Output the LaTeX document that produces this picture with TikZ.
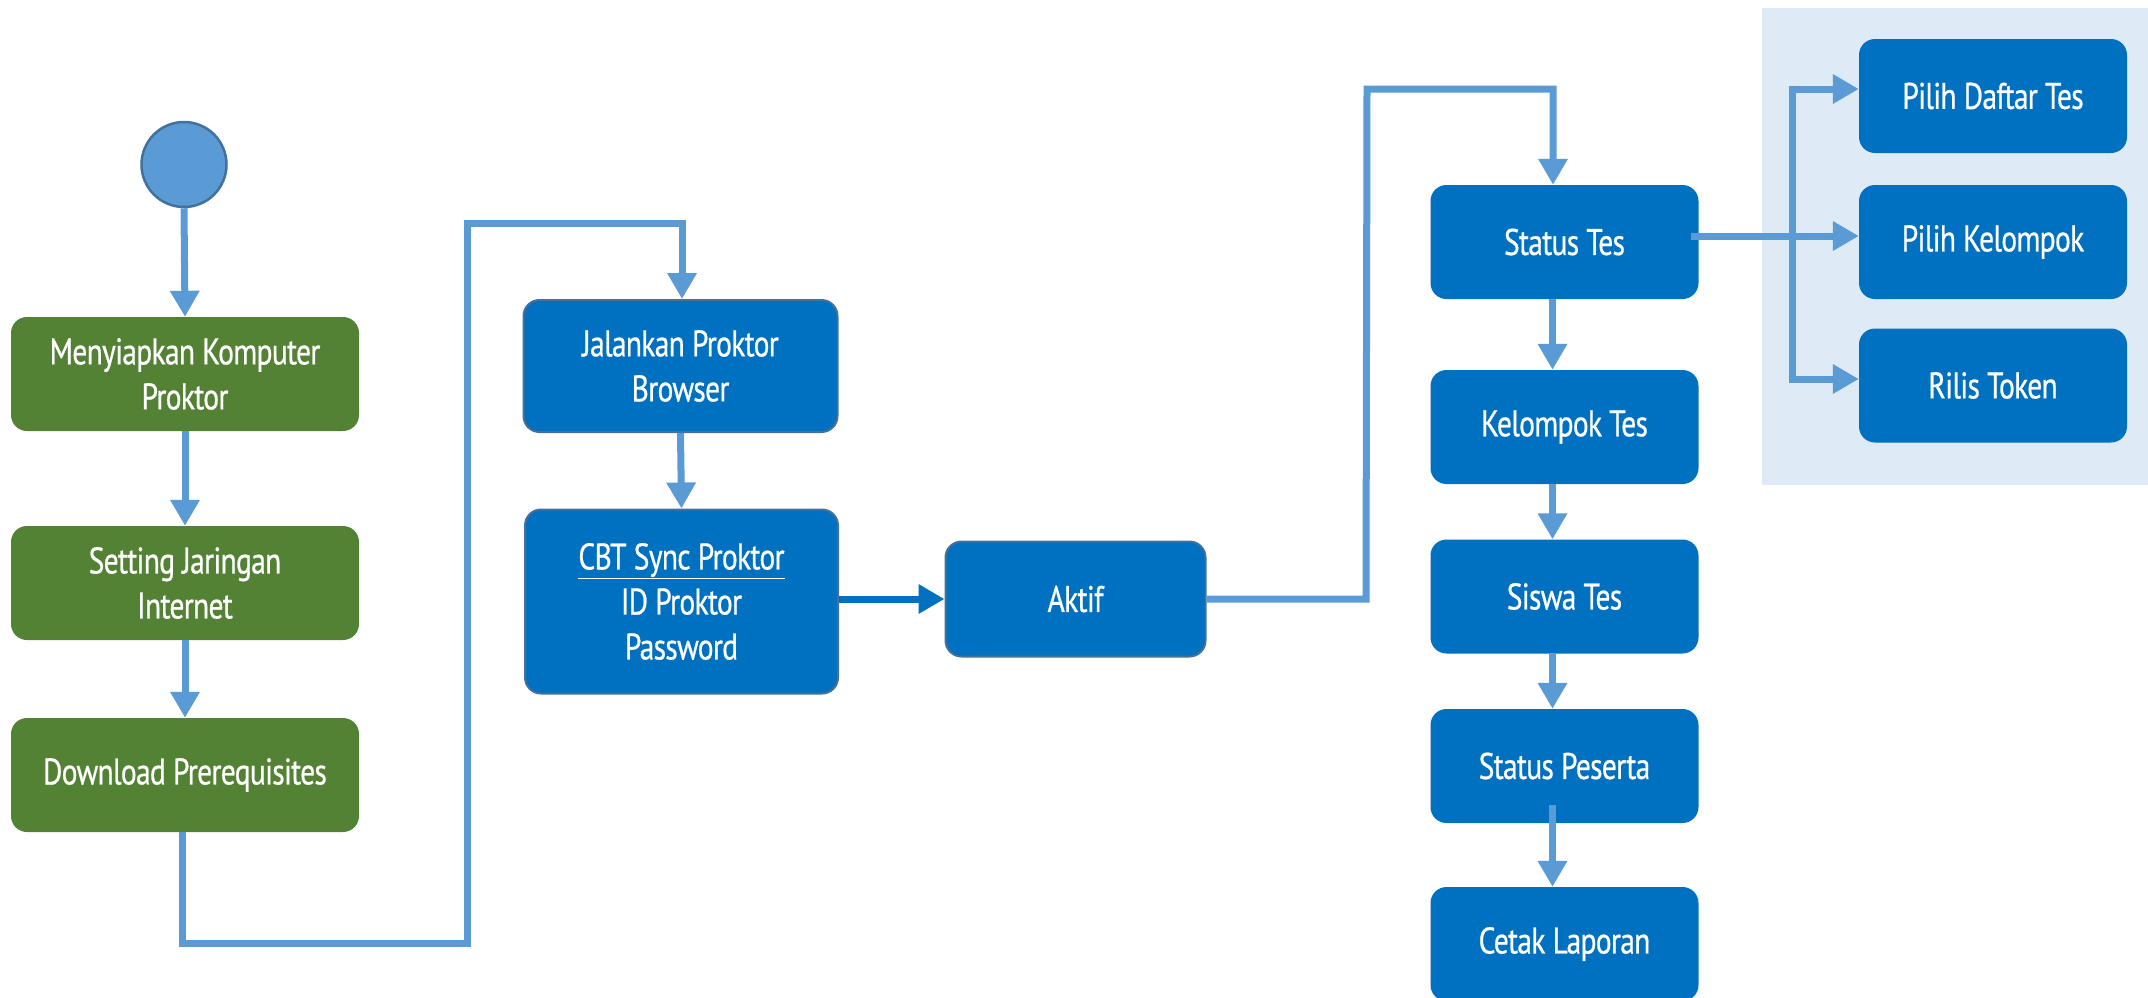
\documentclass[tikz,border=0pt]{standalone}
\usepackage{fontspec}
\setmainfont{PT Sans}[FakeStretch=0.8,FakeBold=0.6,LetterSpace=-2]
\usetikzlibrary{arrows.meta}
\definecolor{gr}{HTML}{548235}
\definecolor{bx}{HTML}{0070C0}
\definecolor{ln}{HTML}{5B9BD5}
\definecolor{bd}{HTML}{41719C}
\definecolor{pn}{HTML}{DEEBF7}
\begin{document}
\begin{tikzpicture}[x=1pt,y=-1pt,
  box/.style={rectangle, rounded corners=16pt, minimum width=268pt, minimum height=114pt,
    fill=bx, text=white, font=\fontsize{37}{45}\selectfont, align=center, inner sep=0pt},
  gbox/.style={box, fill=gr, minimum width=348pt},
  obox/.style={box, draw=bd, line width=2pt},
  conn/.style={draw=ln, line width=7pt},
  arr/.style={conn, -{Triangle[length=26pt,width=28pt]}},
  darr/.style={draw=bx, line width=7pt, -{Triangle[length=26pt,width=28pt]}},
]
\useasboundingbox (0,0) rectangle (2148,997);
\fill[white] (0,0) rectangle (2148,997);
% panel
\fill[pn] (1762,8) rectangle (2148,485);

% start
\node[circle, fill=ln, draw=bd, line width=2.5pt, minimum size=85pt, inner sep=0pt] (start) at (184,164.5) {};

% green column
\node[gbox] (g1) at (185,374) {Menyiapkan Komputer\\Proktor};
\node[gbox] (g2) at (185,583) {Setting Jaringan\\Internet};
\node[gbox] (g3) at (185,775) {Download Prerequisites};

% proktor column
\node[obox, minimum width=314pt, minimum height=132pt] (jal) at (680.5,366) {Jalankan Proktor\\Browser};
\node[obox, minimum width=313pt, minimum height=184pt] (cbt) at (681.5,601.5) {\underline{CBT Sync Proktor}\\ID Proktor\\Password};
\node[obox, minimum width=260pt, minimum height=115pt] (aktif) at (1075.5,599) {Aktif};

% status column
\node[box] (st) at (1564.5,242) {Status Tes};
\node[box] (kt) at (1564.5,427) {Kelompok Tes};
\node[box] (sw) at (1564.5,596.5) {Siswa Tes};
\node[box] (sp) at (1564.5,766) {Status Peserta};
\node[box] (cl) at (1564.5,944) {Cetak Laporan};

% right panel boxes
\node[box] (pd) at (1993,96) {Pilih Daftar Tes};
\node[box] (pk) at (1993,242) {Pilih Kelompok};
\node[box] (rt) at (1993,385.5) {Rilis Token};

% connectors
\draw[arr] (start.south) -- (g1.north);
\draw[arr] (g1.south) -- (g2.north);
\draw[arr] (g2.south) -- (g3.north);

\coordinate (p1) at (182,943);
\coordinate (p2) at (467,943);
\coordinate (p3) at (467,223);
\coordinate (p4) at (682,223);
\draw[arr] ([xshift=-3pt]g3.south) -- (p1) -- (p2) -- (p3) -- (p4) -- (p4 |- jal.north);

\draw[arr] (jal.south) -- (cbt.north);
\draw[darr] (cbt.east |- aktif.west) -- (aktif.west);

\coordinate (q1) at (1366,599);
\coordinate (q2) at (1367,89);
\coordinate (q3) at (1553,89);
\draw[arr] (aktif.east) -- (q1) -- (q2) -- (q3) -- (q3 |- st.north);

\draw[arr] ([xshift=-12pt]st.south) -- ([xshift=-12pt]kt.north);
\draw[arr] ([xshift=-12pt]kt.south) -- ([xshift=-12pt]sw.north);
\draw[arr] ([xshift=-12pt]sw.south) -- ([xshift=-12pt]sp.north);
\draw[arr] ([xshift=-12pt,yshift=18pt]sp.south) -- ([xshift=-12pt]cl.north);

% branch
\coordinate (vt) at (1792,89);
\coordinate (vb) at (1792,379);
\draw[conn] ([yshift=3.5pt]vt) -- ([yshift=-3.5pt]vb);
\draw[arr] ([xshift=-3.5pt]vt) -- (vt -| pd.west);
\draw[arr] ([xshift=-3.5pt]vb) -- (vb -| rt.west);
\draw[arr] ([xshift=-8pt,yshift=6pt]st.east) -- ([yshift=6pt]pk.west);
\end{tikzpicture}
\end{document}
